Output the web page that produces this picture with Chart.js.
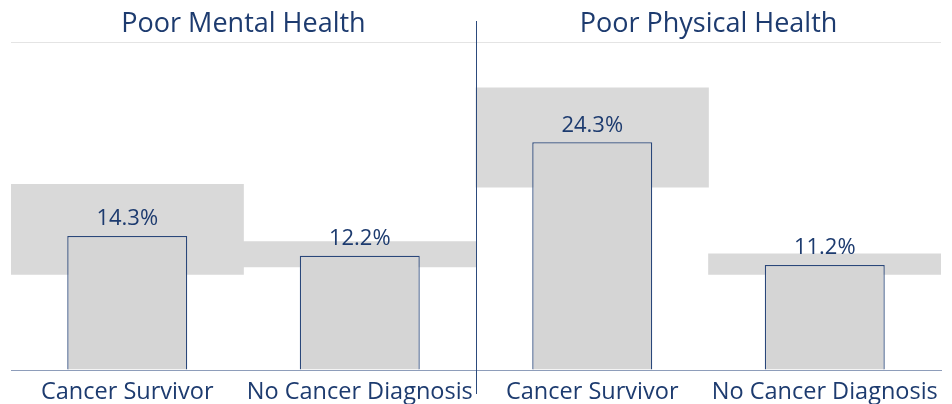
<!DOCTYPE html>
<html>
<head>
<meta charset="utf-8">
<script src="https://cdn.jsdelivr.net/npm/chart.js@4"></script>
<style>
  html, body { margin: 0; padding: 0; background: #fff; }
  #wrap { width: 952px; height: 404px; }
</style>
</head>
<body>
<div id="wrap"><canvas id="myChart"></canvas></div>
<script>
var categories = ['Cancer Survivor', 'No Cancer Diagnosis', 'Cancer Survivor', 'No Cancer Diagnosis'];
var panelTitles = ['Poor Mental Health', 'Poor Physical Health'];
var values = [14.3, 12.2, 24.3, 11.2];
var ciLow = [10.2, 11.0, 19.5, 10.2];
var ciHigh = [19.8, 13.7, 30.1, 12.4];
var yMax = 35;

var navy = '#1d3b6f';
var fontFamily = '"Open Sans", "Noto Sans", sans-serif';

var bands = categories.map(function(c, i) { return [ciLow[i], ciHigh[i]]; });

// titles, divider, value labels
var extras = {
  id: 'extras',
  afterDatasetsDraw: function(chart) {
    var c = chart.ctx;
    var x = chart.scales.x;
    var meta = chart.getDatasetMeta(0);
    c.save();
    c.fillStyle = navy;
    c.textAlign = 'center';
    c.textBaseline = 'middle';
    c.font = '22px ' + fontFamily;
    meta.data.forEach(function(bar, i) {
      c.fillText(values[i].toFixed(1) + '%', bar.x, bar.y - 17);
    });
    // divider between the two panels
    var mid = (x.getPixelForValue(1) + x.getPixelForValue(2)) / 2;
    c.strokeStyle = '#2c4a7c';
    c.lineWidth = 1;
    c.beginPath();
    c.moveTo(Math.round(mid) + 0.5, 21);
    c.lineTo(Math.round(mid) + 0.5, 394);
    c.stroke();
    // panel titles
    c.font = '27px ' + fontFamily;
    panelTitles.forEach(function(t, p) {
      var cx = (x.getPixelForValue(p * 2) + x.getPixelForValue(p * 2 + 1)) / 2;
      c.fillText(t, cx, 24);
    });
    c.restore();
  }
};

new Chart(document.getElementById('myChart').getContext('2d'), {
  type: 'bar',
  data: {
    labels: categories,
    datasets: [{
      label: 'Percent',
      data: values,
      backgroundColor: '#d5d5d5',
      borderColor: '#2a477a',
      borderWidth: 1.3,
      barPercentage: 0.516,
      categoryPercentage: 1,
      grouped: false,
      order: 0
    }, {
      label: '95% CI',
      data: bands,
      backgroundColor: '#d9d9d9',
      borderWidth: 0,
      barPercentage: 1,
      categoryPercentage: 1,
      grouped: false,
      order: 1
    }]
  },
  options: {
    responsive: true,
    maintainAspectRatio: false,
    animation: false,
    layout: { padding: { left: 11, right: 11, top: 42, bottom: 0 } },
    plugins: {
      legend: { display: false },
      tooltip: { enabled: false }
    },
    scales: {
      x: {
        grid: { display: false },
        border: { display: true, color: '#8e9dba', width: 1 },
        ticks: {
          color: navy,
          font: { family: fontFamily, size: 23.5 },
          autoSkip: false,
          maxRotation: 0,
          padding: 0
        },
        afterFit: function(s) { s.height = 34; }
      },
      y: {
        min: 0,
        max: yMax,
        ticks: { display: false, stepSize: yMax },
        border: { display: false },
        grid: {
          drawTicks: false,
          color: function(ctx) { return ctx.tick && ctx.tick.value === yMax ? '#e4e4e4' : 'rgba(0,0,0,0)'; }
        },
        afterFit: function(s) { s.width = 0; }
      }
    }
  },
  plugins: [extras]
});
</script>
</body>
</html>
